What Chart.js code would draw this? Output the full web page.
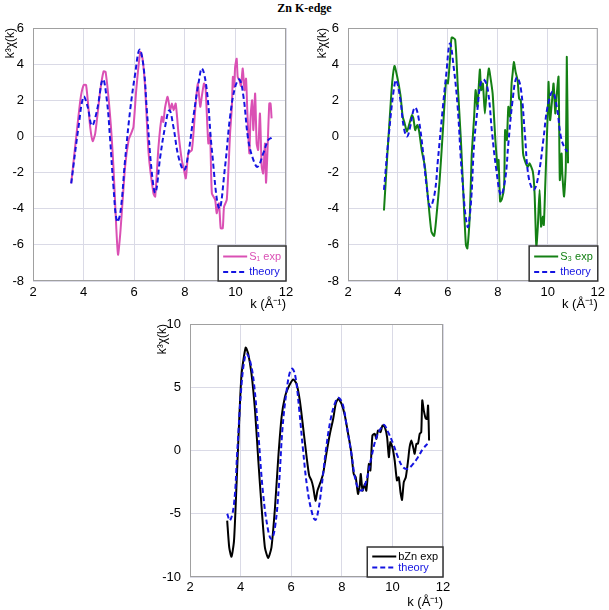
<!DOCTYPE html>
<html>
<head>
<meta charset="utf-8">
<script src="https://cdn.jsdelivr.net/npm/chart.js@4"></script>
<style>
  html, body { margin: 0; padding: 0; background: #fff; }
  #wrap { position: relative; width: 609px; height: 610px; overflow: hidden; }
  #wrap canvas { position: absolute; }
  #title { position: absolute; left: 0; top: 1px; width: 609px; text-align: center;
           font: bold 12px "Liberation Serif", "Times New Roman", serif; }
</style>
</head>
<body>
<div id="wrap">
  <div id="title">Zn K-edge</div>
  <canvas id="c1" width="304" height="318" style="left:0;top:0"></canvas>
  <canvas id="c2" width="294" height="318" style="left:315px;top:0"></canvas>
  <canvas id="c3" width="300" height="310" style="left:155px;top:300px"></canvas>
</div>
<script>
// S1 sample
const k1Exp = [3.51,3.87,4.0,4.1,4.26,4.36,4.46,4.66,4.79,4.87,5.05,5.18,5.29,5.36,5.45,5.64,5.78,5.88,5.97,6.08,6.24,6.33,6.43,6.57,6.76,6.83,6.96,7.09,7.15,7.22,7.32,7.42,7.49,7.56,7.64,7.75,7.88,7.97,8.04,8.14,8.28,8.41,8.51,8.61,8.67,8.76,8.82,8.93,9.0,9.07,9.2,9.26,9.35,9.42,9.5,9.55,9.66,9.79,9.86,9.9,9.95,9.99,10.05,10.09,10.16,10.22,10.29,10.36,10.42,10.47,10.55,10.6,10.66,10.71,10.78,10.84,10.9,10.97,11.04,11.1,11.17,11.21,11.26,11.34,11.39,11.43];
const s1Exp = [-2.6,2.0,2.84,2.84,0.53,-0.26,0.17,2.56,3.6,3.57,1.1,-1.7,-5.0,-6.55,-5.36,-1.68,-0.2,0.17,0.53,2.56,4.68,4.3,2.74,-0.94,-3.15,-3.33,-0.57,1.09,0.8,1.6,2.2,1.45,1.82,1.45,1.82,0.17,-1.3,-1.86,-2.32,-0.94,-0.75,1.45,2.93,1.64,2.19,2.93,2.7,-0.39,0.17,-3.15,-3.5,-4.25,-3.7,-5.08,-5.08,-3.9,-3.5,0.17,1.64,3.3,2.74,3.85,4.3,3.3,3.1,2.8,3.76,2.56,3.2,1.45,-0.94,1.09,2.0,0.35,2.38,-0.39,-0.75,1.27,-1.68,-2.05,-0.39,-2.56,-1.12,1.82,1.82,1.0];
const k1Th = [3.51,3.8,4.0,4.16,4.33,4.53,4.76,4.92,5.05,5.18,5.32,5.45,5.64,5.84,6.04,6.21,6.37,6.5,6.7,6.84,7.03,7.22,7.39,7.55,7.75,7.97,8.14,8.34,8.54,8.68,8.87,9.07,9.36,9.59,9.79,9.99,10.16,10.32,10.51,10.71,10.88,11.1,11.3,11.43];
const s1Th = [-2.6,0.53,2.19,1.64,0.6,1.45,3.15,2.0,-0.2,-2.78,-4.71,-4.25,-1.3,1.45,3.48,4.8,3.85,1.45,-2.05,-3.11,-1.12,0.53,1.45,0.53,-1.12,-1.86,-0.94,1.09,2.93,3.76,2.56,-0.75,-3.98,-1.68,1.09,2.74,3.15,2.19,-0.2,-1.3,-1.68,-0.94,-0.2,-0.07];

// S3 sample
const k3Exp = [3.44,3.57,3.7,3.77,3.86,3.97,4.1,4.19,4.27,4.36,4.46,4.56,4.62,4.69,4.77,4.84,4.95,5.08,5.21,5.34,5.45,5.54,5.67,5.8,5.93,6.0,6.09,6.15,6.29,6.39,6.52,6.63,6.72,6.78,6.88,6.95,7.05,7.11,7.18,7.28,7.33,7.4,7.48,7.57,7.64,7.7,7.79,7.9,7.96,8.0,8.03,8.09,8.16,8.25,8.29,8.36,8.42,8.49,8.55,8.59,8.64,8.71,8.79,8.85,8.92,9.01,9.12,9.21,9.27,9.4,9.47,9.54,9.6,9.67,9.73,9.8,9.84,9.9,10.0,10.03,10.09,10.17,10.23,10.3,10.35,10.43,10.48,10.55,10.58,10.65,10.72,10.76,10.81];
const s3Exp = [-4.1,-1.12,1.64,3.0,3.9,3.3,2.28,1.09,0.72,0.26,0.72,1.18,1.0,0.35,0.63,0.35,-0.75,-1.68,-3.52,-5.27,-5.5,-4.44,-2.41,0.35,3.11,2.93,4.4,5.47,5.36,2.93,-0.2,-3.52,-6.0,-6.19,-4.25,-1.12,1.09,2.56,1.64,3.7,2.56,2.93,1.27,2.93,3.76,3.3,2.38,-0.2,-1.3,-1.86,-1.3,-3.6,-3.48,-2.78,0.35,-0.2,1.64,1.09,2.93,3.48,4.12,3.57,3.11,2.1,2.0,-0.94,-1.49,-1.68,-1.49,-1.95,-3.15,-6.1,-4.99,-2.96,-4.99,-4.44,-4.9,-2.6,1.45,3.02,0.9,2.0,2.93,1.27,2.19,3.3,-2.41,-0.94,-2.05,-3.33,-1.68,4.4,-1.49];
const k3Th = [3.44,3.64,3.83,3.93,4.1,4.23,4.36,4.49,4.62,4.71,4.84,5.01,5.15,5.29,5.47,5.6,5.8,5.93,6.08,6.23,6.39,6.56,6.78,6.91,7.05,7.18,7.31,7.44,7.6,7.77,7.94,8.12,8.29,8.42,8.59,8.75,8.91,9.08,9.23,9.44,9.64,9.82,9.99,10.19,10.36,10.52,10.65,10.78];
const s3Th = [-2.96,0.17,2.56,3.11,2.0,0.53,0.0,0.53,1.45,1.6,0.9,-0.94,-2.78,-3.89,-3.15,-1.3,1.64,3.39,5.14,3.85,1.64,-2.05,-4.99,-3.89,-0.39,1.45,2.93,3.15,2.56,0.17,-1.86,-3.24,-2.41,-0.39,2.0,3.26,2.74,0.17,-2.23,-2.96,-2.04,-0.2,1.64,2.47,1.64,0.0,-0.57,-0.85];

// bulk Zn
const kBExp = [3.47,3.55,3.64,3.74,3.84,3.95,4.04,4.2,4.3,4.43,4.57,4.7,4.83,4.96,5.09,5.22,5.36,5.49,5.62,5.75,5.88,6.08,6.21,6.34,6.47,6.61,6.71,6.8,6.87,6.96,7.04,7.16,7.26,7.39,7.53,7.66,7.76,7.86,7.99,8.12,8.25,8.32,8.38,8.47,8.55,8.64,8.71,8.75,8.82,8.91,8.97,9.07,9.13,9.21,9.3,9.37,9.43,9.53,9.61,9.7,9.79,9.86,9.92,10.0,10.09,10.18,10.25,10.32,10.38,10.45,10.53,10.62,10.68,10.75,10.82,10.88,10.95,11.01,11.08,11.14,11.18,11.24,11.32,11.37,11.41,11.45];
const bExp = [-5.54,-7.65,-8.4,-7.12,-2.64,2.64,6.07,8.13,7.65,6.07,3.17,-0.79,-4.49,-7.65,-8.5,-7.65,-4.49,-0.53,2.64,4.22,4.96,5.62,5.28,3.96,1.85,-0.53,-1.98,-2.37,-2.9,-3.96,-3.17,-2.5,-1.85,-0.26,1.32,2.51,3.69,4.09,3.69,2.77,1.32,0.53,-0.26,-1.85,-2.11,-3.43,-2.77,-1.85,-3.17,-2.64,-3.17,-1.06,-1.58,1.19,1.32,0.92,1.58,1.45,1.98,1.85,1.06,-0.53,0.66,0.26,-0.79,-2.37,-2.11,-3.3,-3.9,-2.5,-2.11,-0.79,0.26,0.79,0.26,-0.26,0.53,0.53,1.32,1.45,3.96,3.17,2.51,2.51,3.56,0.79];
const kBTh = [3.47,3.58,3.74,3.87,4.04,4.17,4.24,4.37,4.53,4.7,4.89,5.09,5.22,5.36,5.51,5.66,5.82,5.95,6.05,6.17,6.32,6.47,6.63,6.8,6.95,7.07,7.2,7.37,7.55,7.72,7.86,8.03,8.18,8.38,8.58,8.78,8.97,9.17,9.37,9.57,9.67,9.83,10.03,10.22,10.42,10.59,10.82,11.01,11.21,11.45];
const bTh = [-5.0,-5.54,-4.22,0.0,5.28,7.39,7.65,7.12,5.28,1.32,-3.43,-6.33,-6.99,-6.07,-2.9,1.85,4.75,6.2,6.46,5.8,3.17,0.0,-2.9,-4.75,-5.49,-4.75,-2.9,0.0,2.37,3.69,4.17,3.69,2.11,-0.26,-2.64,-3.17,-2.37,-0.53,1.06,1.85,2.03,1.45,0.53,-0.53,-1.32,-1.45,-1.06,-0.53,0.13,0.66];

const blue = 'rgb(20,20,225)';
const font = '"Liberation Sans", Arial, sans-serif';

function pts(xs, ys) {
  return xs.map((x, i) => ({ x: x, y: ys[i] }));
}

// matlab style legend box inside the axes + full frame
const boxLegend = {
  id: 'boxLegend',
  afterDraw(chart, args, o) {
    const { ctx, chartArea: a } = chart;
    ctx.save();
    ctx.strokeStyle = '#a0a0a0';
    ctx.lineWidth = 1;
    ctx.strokeRect(a.left + 0.5, a.top + 0.5, a.right - a.left - 1, a.bottom - a.top - 1);

    const sets = chart.data.datasets;
    ctx.font = '11px ' + font;
    const tw = Math.max(...sets.map(d => ctx.measureText(d.label).width));
    const w = tw + 36, h = o.h;
    const x = a.right - w, y = a.bottom - h;
    ctx.fillStyle = '#fff';
    ctx.fillRect(x, y, w, h);
    ctx.strokeStyle = '#333';
    ctx.lineWidth = 1.5;
    ctx.strokeRect(x, y, w, h);
    sets.forEach((d, i) => {
      const cy = y + o.first + i * o.row;
      ctx.strokeStyle = d.borderColor;
      ctx.lineWidth = 2;
      ctx.setLineDash(d.borderDash || []);
      ctx.beginPath();
      ctx.moveTo(x + 5, cy);
      ctx.lineTo(x + 29, cy);
      ctx.stroke();
      ctx.setLineDash([]);
      ctx.fillStyle = d.borderColor;
      ctx.textBaseline = 'middle';
      ctx.fillText(d.label, x + 31, cy);
    });
    ctx.restore();
  }
};

function panel(id, p) {
  new Chart(document.getElementById(id), {
    type: 'line',
    data: {
      datasets: [
        { label: p.expLabel, data: pts(p.kExp, p.exp), borderColor: p.color, borderWidth: 2,
          pointRadius: 0, tension: 0.2, order: 1 },
        { label: 'theory', data: pts(p.kTh, p.th), borderColor: blue, borderWidth: 2,
          borderDash: [5, 3], pointRadius: 0, tension: 0.4, order: 0 }
      ]
    },
    options: {
      responsive: false,
      animation: false,
      layout: { padding: p.pad },
      plugins: {
        legend: { display: false },
        tooltip: { enabled: false },
        boxLegend: p.legend
      },
      scales: {
        x: {
          type: 'linear', min: 2, max: 12,
          afterFit: s => { s.height = p.xh; },
          ticks: { stepSize: 2, padding: p.xpad, color: '#000', font: { family: font, size: 13 } },
          grid: { color: 'rgb(218,218,230)', drawTicks: false },
          border: { display: false },
          title: { display: true, text: 'k (Å⁻¹)', align: 'end', color: '#000',
                   padding: { top: 0, bottom: p.xtpad }, font: { family: font, size: 13 } }
        },
        y: {
          min: p.ymin, max: p.ymax,
          afterFit: s => { s.width = p.yw; },
          ticks: { stepSize: p.ystep, padding: 9, color: '#000', font: { family: font, size: 13 } },
          grid: { color: 'rgb(218,218,230)', drawTicks: false },
          border: { display: false },
          title: { display: true, text: 'k³χ(k)', align: 'end', color: '#000',
                   padding: { top: p.ytpad, bottom: 0 }, font: { family: font, size: 12 } }
        }
      }
    },
    plugins: [boxLegend]
  });
}

panel('c1', {
  kExp: k1Exp, exp: s1Exp, kTh: k1Th, th: s1Th, expLabel: 'S₁ exp', color: 'rgb(218,80,180)',
  ymin: -8, ymax: 6, ystep: 2, pad: { top: 28, right: 18, left: 0, bottom: 0 },
  yw: 33, xh: 37, xpad: 4, xtpad: 6, ytpad: 3, legend: { h: 35, first: 10.5, row: 15.5 }
});

panel('c2', {
  kExp: k3Exp, exp: s3Exp, kTh: k3Th, th: s3Th, expLabel: 'S₃ exp', color: 'rgb(20,128,20)',
  ymin: -8, ymax: 6, ystep: 2, pad: { top: 28, right: 6, left: 0, bottom: 0 },
  yw: 33, xh: 37, xpad: 4, xtpad: 6, ytpad: 0, legend: { h: 35, first: 10.5, row: 15.5 }
});

panel('c3', {
  kExp: kBExp, exp: bExp, kTh: kBTh, th: bTh, expLabel: 'bZn exp', color: '#000',
  ymin: -10, ymax: 10, ystep: 5, pad: { top: 24, right: 12, left: 0, bottom: 0 },
  yw: 35, xh: 33, xpad: 3, xtpad: 0, ytpad: 0, legend: { h: 30, first: 9.5, row: 11 }
});
</script>
</body>
</html>
